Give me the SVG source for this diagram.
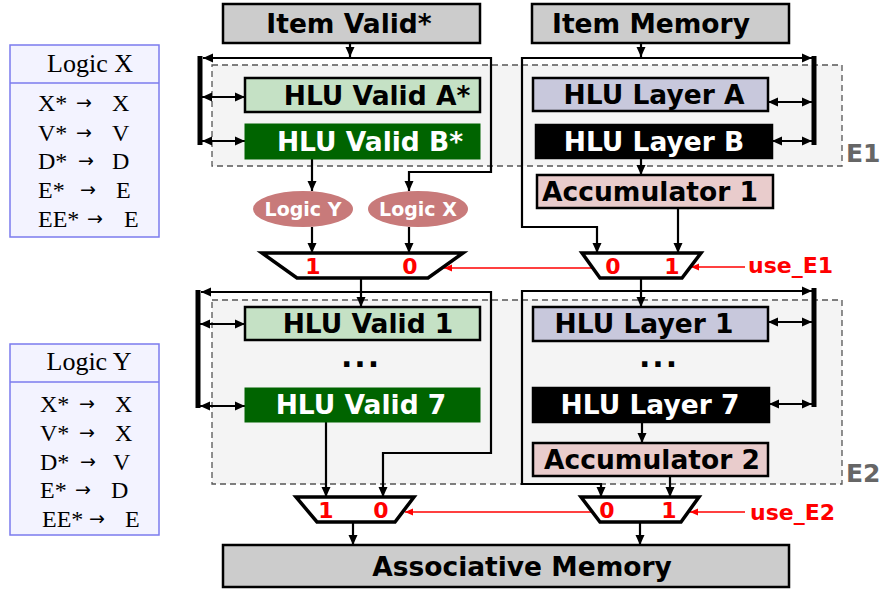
<svg xmlns="http://www.w3.org/2000/svg" width="880" height="592" viewBox="0 0 880 592">
<style>
.box{stroke:#000;stroke-width:2.5}
.gray{fill:#cccccc}
.lg{fill:#c5e1c5}
.dg{fill:#006400;stroke:#006400}
.lav{fill:#c8c8dc}
.blk{fill:#000}
.acc{fill:#e9cccc}
.t{font-family:"DejaVu Sans",Verdana,sans-serif;font-weight:bold;font-size:26.5px;text-anchor:middle}
.w{fill:#fff}
.k{fill:#000}
.ell{fill:#c87a7a}
.et{font-family:"DejaVu Sans",Verdana,sans-serif;font-weight:bold;font-size:19px;text-anchor:middle;fill:#fff}
.mux{fill:#fff;stroke:#000;stroke-width:3.5;stroke-linejoin:miter}
.mt{font-family:"DejaVu Sans",Verdana,sans-serif;font-weight:bold;font-size:22px;text-anchor:middle;fill:#ff0000}
.use{font-family:"DejaVu Sans",Verdana,sans-serif;font-weight:bold;font-size:22px;fill:#ff0000}
.eg{font-family:"DejaVu Sans",Verdana,sans-serif;font-weight:bold;font-size:25px;fill:#666}
.dash{fill:#f4f4f4;stroke:#555;stroke-width:1.3;stroke-dasharray:6,4}
.c{fill:none;stroke:#000;stroke-width:2.2}
.a{marker-end:url(#ah)}
.d{marker-start:url(#ah);marker-end:url(#ah)}
.bus{fill:none;stroke:#000;stroke-width:5}
.r{fill:none;stroke:#ff0000;stroke-width:1.5;marker-end:url(#rh)}
.tbl{fill:#f3f3ff;stroke:#7b7bee;stroke-width:1.5}
.st{font-family:"Liberation Serif","Times New Roman",serif;font-size:24px;fill:#000}
.sh{font-family:"Liberation Serif","Times New Roman",serif;font-size:26px;fill:#000;text-anchor:middle}
.ar{font-family:"DejaVu Sans",sans-serif;font-size:19px;fill:#000}
</style>
<defs>
<marker id="ah" viewBox="0 0 10 10" refX="10" refY="5" markerWidth="10" markerHeight="10" markerUnits="userSpaceOnUse" orient="auto-start-reverse">
<path d="M0,0.5 L10,5 L0,9.5 z" fill="#000"/>
</marker>
<marker id="rh" viewBox="0 0 10 10" refX="10" refY="5" markerWidth="8" markerHeight="8" markerUnits="userSpaceOnUse" orient="auto">
<path d="M0,0.5 L10,5 L0,9.5 z" fill="#ff0000"/>
</marker>
</defs>

<g id="E1-region"><rect class="dash" x="212" y="65" width="630" height="101"/><text class="eg" x="846" y="162">E1</text></g>
<g id="E2-region"><rect class="dash" x="212" y="300" width="630" height="184"/><text class="eg" x="846" y="482">E2</text></g>

<g id="logicX">
<rect class="tbl" x="10" y="45" width="149" height="192"/>
<line x1="10" y1="83" x2="159" y2="83" stroke="#7b7bee" stroke-width="1.5"/>
<text class="sh" x="90" y="72">Logic X</text>
<text class="st" x="38" y="111">X*</text><text class="ar" x="76" y="109">→</text><text class="st" x="112" y="111">X</text>
<text class="st" x="38" y="141">V*</text><text class="ar" x="76" y="139">→</text><text class="st" x="112" y="141">V</text>
<text class="st" x="38" y="169">D*</text><text class="ar" x="78" y="167">→</text><text class="st" x="112" y="169">D</text>
<text class="st" x="38" y="198">E*</text><text class="ar" x="80" y="196">→</text><text class="st" x="116" y="198">E</text>
<text class="st" x="38" y="227">EE*</text><text class="ar" x="87" y="225">→</text><text class="st" x="124" y="227">E</text>
</g>

<g id="logicY">
<rect class="tbl" x="10" y="344" width="149" height="191"/>
<line x1="10" y1="382" x2="159" y2="382" stroke="#7b7bee" stroke-width="1.5"/>
<text class="sh" x="89" y="370">Logic Y</text>
<text class="st" x="40" y="412">X*</text><text class="ar" x="79" y="410">→</text><text class="st" x="115" y="412">X</text>
<text class="st" x="40" y="441">V*</text><text class="ar" x="79" y="439">→</text><text class="st" x="115" y="441">X</text>
<text class="st" x="40" y="470">D*</text><text class="ar" x="80" y="468">→</text><text class="st" x="113" y="470">V</text>
<text class="st" x="40" y="498">E*</text><text class="ar" x="75" y="496">→</text><text class="st" x="111" y="498">D</text>
<text class="st" x="42" y="527">EE*</text><text class="ar" x="89" y="525">→</text><text class="st" x="125" y="527">E</text>
</g>

<g id="connectors">
<path class="c a" d="M350,43 V57"/>
<path class="c a" d="M350,58 H203"/>
<path class="c a" d="M350,58 H491 V172 H409 V191"/>
<path class="bus" d="M200,56 V145"/>
<path class="c d" d="M202,97 H245"/>
<path class="c d" d="M202,141 H245"/>
<path class="c a" d="M312,159 V191"/>
<path class="c a" d="M312,227 V253"/>
<path class="c a" d="M409,227 V253"/>
<path class="c a" d="M361,278 V307"/>
<path class="c a" d="M361,292 H201"/>
<path class="c a" d="M361,292 H491 V453 H383 V497"/>
<path class="bus" d="M198,290 V408"/>
<path class="c d" d="M200,324 H245"/>
<path class="c d" d="M200,406 H245"/>
<path class="c a" d="M326,422 V497"/>
<path class="c a" d="M353,522 V545"/>

<path class="c a" d="M641,43 V57"/>
<path class="c a" d="M641,58 H812"/>
<path class="c a" d="M641,58 H522 V227 H597 V253"/>
<path class="bus" d="M814,56 V145"/>
<path class="c d" d="M768,102 H812"/>
<path class="c d" d="M772,141 H812"/>
<path class="c a" d="M641,158 V175"/>
<path class="c a" d="M678,208 V253"/>
<path class="c a" d="M641,278 V307"/>
<path class="c a" d="M641,291 H812"/>
<path class="c a" d="M641,291 H522 V484 H601 V497"/>
<path class="bus" d="M814,288 V407"/>
<path class="c d" d="M768,322 H812"/>
<path class="c d" d="M769,404 H812"/>
<path class="c a" d="M642,422 V443"/>
<path class="c a" d="M670,476 V497"/>
<path class="c a" d="M640,522 V545"/>

<path class="r" d="M593,268 H444"/>
<path class="r" d="M745,267 H691"/>
<path class="r" d="M592,512 H405"/>
<path class="r" d="M745,512 H690"/>
</g>

<g id="item-valid"><rect class="box gray" x="223" y="4" width="257" height="39"/><text class="t k" x="349" y="33">Item Valid*</text></g>
<g id="item-memory"><rect class="box gray" x="532" y="4" width="257" height="39"/><text class="t k" x="651" y="33">Item Memory</text></g>

<g id="hlu-valid-a"><rect class="box lg" x="245" y="78" width="235" height="34"/><text class="t k" x="377" y="105">HLU Valid A*</text></g>
<g id="hlu-valid-b"><rect class="dg" x="245" y="124" width="235" height="35" stroke-width="1"/><text class="t w" x="370" y="151">HLU Valid B*</text></g>
<g id="hlu-layer-a"><rect class="box lav" x="533" y="78" width="235" height="33"/><text class="t k" x="654" y="104">HLU Layer A</text></g>
<g id="hlu-layer-b"><rect class="box blk" x="536" y="125" width="236" height="33"/><text class="t w" x="654" y="151">HLU Layer B</text></g>
<g id="accumulator-1"><rect class="box acc" x="537" y="175" width="236" height="33"/><text class="t k" x="650" y="201">Accumulator 1</text></g>

<g id="logic-y-op"><ellipse class="ell" cx="303" cy="209" rx="50" ry="18"/><text class="et" x="303" y="216">Logic Y</text></g>
<g id="logic-x-op"><ellipse class="ell" cx="418" cy="209" rx="50" ry="18"/><text class="et" x="418" y="216">Logic X</text></g>

<g id="mux-v1"><polygon class="mux" points="262,253 463,253 428,278 297,278"/><text class="mt" x="313" y="274">1</text><text class="mt" x="410" y="274">0</text></g>
<g id="mux-m1"><polygon class="mux" points="582,253 701,253 682,278 600,278"/><text class="mt" x="613" y="274">0</text><text class="mt" x="672" y="274">1</text></g>
<g id="use-e1"><text class="use" x="748" y="273">use_E1</text></g>

<g id="hlu-valid-1"><rect class="box lg" x="245" y="307" width="235" height="33"/><text class="t k" x="368" y="333">HLU Valid 1</text></g>
<g id="dots-valid"><text class="t k" x="361" y="367" style="font-size:30px;letter-spacing:2px">...</text></g>
<g id="hlu-valid-7"><rect class="dg" x="245" y="388" width="235" height="34" stroke-width="1"/><text class="t w" x="361" y="414">HLU Valid 7</text></g>
<g id="hlu-layer-1"><rect class="box lav" x="533" y="307" width="235" height="34"/><text class="t k" x="644" y="333">HLU Layer 1</text></g>
<g id="dots-layer"><text class="t k" x="659" y="367" style="font-size:30px;letter-spacing:2px">...</text></g>
<g id="hlu-layer-7"><rect class="box blk" x="533" y="388" width="236" height="34"/><text class="t w" x="650" y="414">HLU Layer 7</text></g>
<g id="accumulator-2"><rect class="box acc" x="533" y="443" width="235" height="33"/><text class="t k" x="652" y="469">Accumulator 2</text></g>

<g id="mux-v2"><polygon class="mux" points="296,497 414,497 395,522 317,522"/><text class="mt" x="326" y="518">1</text><text class="mt" x="381" y="518">0</text></g>
<g id="mux-m2"><polygon class="mux" points="581,497 699,497 681,522 600,522"/><text class="mt" x="607" y="518">0</text><text class="mt" x="669" y="518">1</text></g>
<g id="use-e2"><text class="use" x="750" y="520">use_E2</text></g>

<g id="associative-memory"><rect class="box gray" x="223" y="545" width="566" height="42"/><text class="t k" x="522" y="576">Associative Memory</text></g>
</svg>
